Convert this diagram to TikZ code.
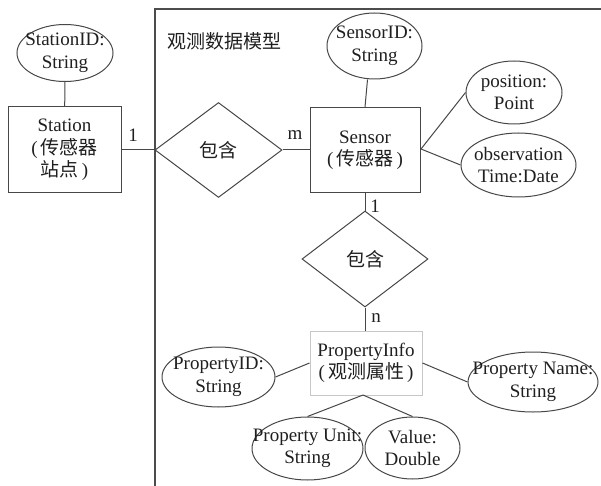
\documentclass[tikz,border=0pt]{standalone}
\usepackage{fontspec}
\setmainfont{Liberation Serif}
\newfontfamily\cjk{Noto Sans CJK SC}
\usetikzlibrary{shapes.geometric}
\begin{document}
\begin{tikzpicture}[x=1pt,y=-1pt,
  every node/.style={font=\fontsize{19}{22.5}\selectfont, text=black!88},
  ln/.style={draw=black!72, line width=1pt},
  attr/.style={ellipse, ln, inner sep=0pt, minimum width=#1},
  ent/.style={rectangle, ln, inner sep=0pt, align=center},
  rel/.style={diamond, ln, inner sep=0pt},
  txt/.style={align=center, inner sep=0pt},
  card/.style={inner sep=0pt}
]
\useasboundingbox (0,0) rectangle (601,486);
% frame
\coordinate (fb) at (155,490);
\coordinate (ft) at (155,9);
\coordinate (fr) at (605,9);
\draw[draw=black!70, line width=1.1pt] (fb) -- (ft) -- (fr);
\node[txt, anchor=west] (title) at (167,41) {\cjk 观测数据模型};

% Station
\node[attr=96pt, minimum height=57pt] (sid) at (65,53) {};
\node[txt] (sidt) at (sid.center) {StationID:\\String};
\node[ent, minimum width=113pt, minimum height=86pt] (station) at (64.5,150) {Station\\(\,{\cjk 传感器}\\{\cjk 站点}\,)};
\draw[ln] (sid) -- (station);

% relation 1
\node[rel, minimum width=127pt, minimum height=95pt] (r1) at (218.5,150) {\cjk 包含};
\draw[ln] (station.east) -- (r1.west);
\node[card] (c1) at (133,135) {1};

% Sensor
\node[ent, minimum width=110pt, minimum height=85pt] (sensor) at (365,150) {Sensor\\(\,{\cjk 传感器}\,)};
\draw[ln] (r1.east) -- (sensor.west);
\node[card] (cm) at (295,135) {m};

\node[attr=95pt, minimum height=66pt] (snid) at (374.5,46) {};
\node[txt] (snidt) at (snid.center) {SensorID:\\String};
\draw[ln] (snid.south) ++(-7,0) coordinate (snb) (snb) -- (sensor.north);

\node[attr=96pt, minimum height=63pt] (pos) at (514,92.5) {};
\node[txt] (post) at (pos.center) {position:\\Point};
\node[attr=115pt, minimum height=64pt] (obs) at (518.5,165) {};
\node[txt] (obst) at (obs.center) {observation\\Time:Date};
\coordinate (sr) at (421,149);
\draw[ln] (sr) -- (pos.west);
\draw[ln] (sr) -- (obs.west);

% relation 2
\node[rel, minimum width=126pt, minimum height=96pt] (r2) at (365,259) {\cjk 包含};
\draw[ln] (sensor.south) -- (r2.north);
\node[card] (c2) at (375,206) {1};

% PropertyInfo
\node[ent, draw=black!22, minimum width=112pt, minimum height=64pt] (pinfo) at (366,363) {PropertyInfo\\(\,{\cjk 观测属性}\,)};
\draw[ln] (r2.south) -- (pinfo.north -| r2.south);
\node[card] (cn) at (376,318) {n};

\node[attr=113pt, minimum height=60pt] (pid) at (218.5,377) {};
\node[txt] (pidt) at (pid.center) {PropertyID:\\String};
\node[attr=130pt, minimum height=60pt] (pname) at (533,382) {};
\node[txt] (pnamet) at (pname.center) {Property Name:\\String};
\node[attr=111pt, minimum height=63pt] (punit) at (307.5,448.5) {};
\node[txt] (punitt) at (punit.center) {Property Unit:\\String};
\node[attr=95pt, minimum height=62pt] (pval) at (412.5,448) {};
\node[txt] (pvalt) at (pval.center) {Value:\\Double};

\draw[ln] (pinfo.west) -- (pid.east);
\draw[ln] (pinfo.east) -- (pname.west);
\coordinate (pb) at (363,395);
\draw[ln] (pb) -- (punit.north);
\draw[ln] (pb) -- (pval.north);
\end{tikzpicture}
\end{document}
